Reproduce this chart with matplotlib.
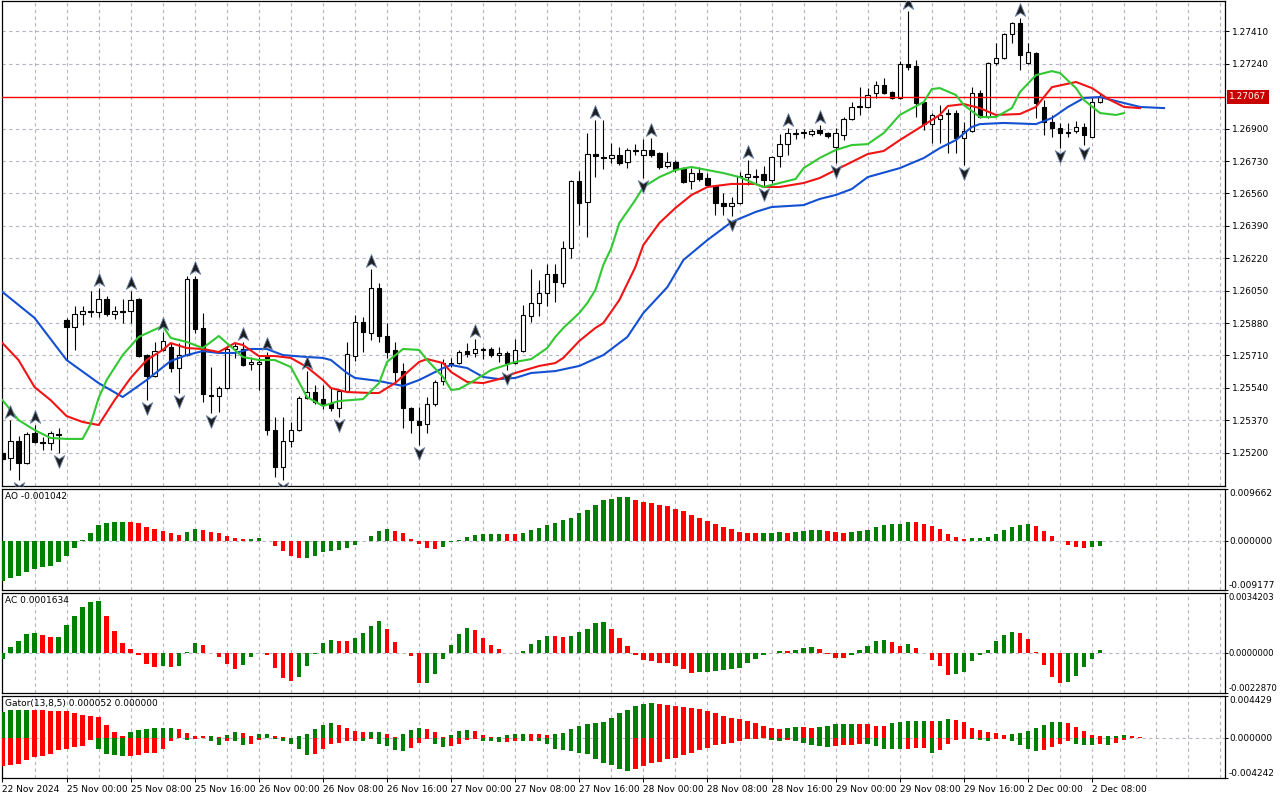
import numpy as np
import matplotlib
matplotlib.use('Agg')
import matplotlib.pyplot as plt
from matplotlib.path import Path
from matplotlib import transforms

plt.rcParams['font.family'] = ['DejaVu Sans']
FS = 6.5

# ---------------- data (H1 bars) ----------------
date_bars = [0, 8, 16, 24, 32, 40, 48, 56, 64, 72, 80, 88, 96, 104, 112, 120, 128, 136]
date_labels = ['22 Nov 2024', '25 Nov 00:00', '25 Nov 08:00', '25 Nov 16:00', '26 Nov 00:00',
               '26 Nov 08:00', '26 Nov 16:00', '27 Nov 00:00', '27 Nov 08:00', '27 Nov 16:00',
               '28 Nov 00:00', '28 Nov 08:00', '28 Nov 16:00', '29 Nov 00:00', '29 Nov 08:00',
               '29 Nov 16:00', '2 Dec 00:00', '2 Dec 08:00']

price_ticks = [1.25200, 1.25370, 1.25540, 1.25710, 1.25880, 1.26050, 1.26220,
               1.26390, 1.26560, 1.26730, 1.26900, 1.27070, 1.27240, 1.27410]
bid = 1.27067

open_ = [1.25198, 1.25172, 1.25261, 1.25146, 1.25303, 1.25256, 1.25251, 1.25298, 1.25896, 1.25859,
         1.25927, 1.25938, 1.25938, 1.26006, 1.25927, 1.25943, 1.25943, 1.26006, 1.25712, 1.25602,
         1.25739, 1.25754, 1.25644, 1.25712, 1.26111, 1.25854, 1.25502, 1.25497, 1.25539, 1.25744,
         1.25744, 1.25665, 1.25665, 1.25702, 1.25319, 1.25125, 1.25261, 1.25319, 1.25487, 1.25518,
         1.25481, 1.25460, 1.25434, 1.25523, 1.25707, 1.25886, 1.25828, 1.26064, 1.25812, 1.25739,
         1.25628, 1.25434, 1.25366, 1.25350, 1.25455, 1.25576, 1.25665, 1.25670, 1.25733, 1.25723,
         1.25744, 1.25744, 1.25712, 1.25723, 1.25670, 1.25733, 1.25917, 1.25985, 1.26038, 1.26137,
         1.26090, 1.26274, 1.26625, 1.26515, 1.26767, 1.26751, 1.26746, 1.26762, 1.26725, 1.26783,
         1.26762, 1.26788, 1.26772, 1.26704, 1.26725, 1.26693, 1.26625, 1.26667, 1.26641, 1.26599,
         1.26510, 1.26494, 1.26510, 1.26646, 1.26651, 1.26662, 1.26630, 1.26756, 1.26819, 1.26872,
         1.26877, 1.26872, 1.26893, 1.26877, 1.26804, 1.26867, 1.26951, 1.27019, 1.27014, 1.27087,
         1.27129, 1.27092, 1.27061, 1.27239, 1.27229, 1.27040, 1.26924, 1.26951, 1.26982, 1.26982,
         1.26851, 1.26888, 1.27087, 1.26961, 1.27244, 1.27271, 1.27397, 1.27454, 1.27244, 1.27297,
         1.27014, 1.26935, 1.26903, 1.26882, 1.26888, 1.26909, 1.26856, 1.27040]
high = [1.25214, 1.25371, 1.25287, 1.25308, 1.25345, 1.25282, 1.25313, 1.25329, 1.25907, 1.25969,
        1.25969, 1.26048, 1.26064, 1.26022, 1.25969, 1.26006, 1.26048, 1.26011, 1.25718, 1.25781,
        1.25833, 1.25775, 1.25775, 1.26127, 1.26127, 1.25933, 1.25649, 1.25550, 1.25760, 1.25775,
        1.25781, 1.25702, 1.25702, 1.25728, 1.25387, 1.25387, 1.25361, 1.25497, 1.25628, 1.25555,
        1.25555, 1.25539, 1.25534, 1.25781, 1.25922, 1.25912, 1.26164, 1.26090, 1.25880, 1.25781,
        1.25670, 1.25439, 1.25439, 1.25492, 1.25581, 1.25691, 1.25697, 1.25739, 1.25775, 1.25796,
        1.25754, 1.25754, 1.25754, 1.25733, 1.25796, 1.25975, 1.26164, 1.26106, 1.26190, 1.26190,
        1.26311, 1.26630, 1.26678, 1.26877, 1.26945, 1.26945, 1.26825, 1.26804, 1.26798, 1.26819,
        1.26846, 1.26851, 1.26777, 1.26777, 1.26735, 1.26699, 1.26693, 1.26699, 1.26667, 1.26604,
        1.26562, 1.26541, 1.26672, 1.26735, 1.26688, 1.26704, 1.26756, 1.26872, 1.26903, 1.26898,
        1.26898, 1.26898, 1.26919, 1.26882, 1.26903, 1.26961, 1.27040, 1.27118, 1.27113, 1.27150,
        1.27166, 1.27098, 1.27255, 1.27517, 1.27260, 1.27045, 1.26982, 1.27024, 1.27003, 1.26998,
        1.26935, 1.27118, 1.27103, 1.27250, 1.27349, 1.27402, 1.27460, 1.27481, 1.27349, 1.27302,
        1.27050, 1.26972, 1.26930, 1.26930, 1.26940, 1.26930, 1.27066, 1.27087]
low = [1.25151, 1.25109, 1.25056, 1.25140, 1.25251, 1.25214, 1.25214, 1.25198, 1.25686, 1.25739,
       1.25870, 1.25912, 1.25912, 1.25917, 1.25901, 1.25880, 1.25880, 1.25700, 1.25476, 1.25597,
       1.25733, 1.25623, 1.25513, 1.25707, 1.25828, 1.25466, 1.25408, 1.25413, 1.25534, 1.25697,
       1.25655, 1.25634, 1.25529, 1.25293, 1.25072, 1.25056, 1.25230, 1.25313, 1.25481, 1.25455,
       1.25429, 1.25418, 1.25387, 1.25518, 1.25681, 1.25728, 1.25791, 1.25781, 1.25697, 1.25565,
       1.25329, 1.25303, 1.25240, 1.25303, 1.25445, 1.25555, 1.25649, 1.25665, 1.25702, 1.25702,
       1.25691, 1.25702, 1.25676, 1.25634, 1.25665, 1.25728, 1.25886, 1.25917, 1.25969, 1.25990,
       1.26069, 1.26221, 1.26394, 1.26332, 1.26646, 1.26688, 1.26720, 1.26709, 1.26693, 1.26762,
       1.26641, 1.26751, 1.26688, 1.26693, 1.26672, 1.26615, 1.26583, 1.26625, 1.26594, 1.26447,
       1.26447, 1.26442, 1.26505, 1.26604, 1.26615, 1.26599, 1.26615, 1.26699, 1.26762, 1.26846,
       1.26851, 1.26861, 1.26867, 1.26851, 1.26720, 1.26840, 1.26945, 1.26972, 1.27008, 1.27061,
       1.27082, 1.27056, 1.27056, 1.27208, 1.26961, 1.26893, 1.26825, 1.26825, 1.26772, 1.26772,
       1.26709, 1.26882, 1.26956, 1.26956, 1.27234, 1.27265, 1.27349, 1.27208, 1.27239, 1.26956,
       1.26867, 1.26856, 1.26798, 1.26856, 1.26877, 1.26814, 1.26854, 1.27035]
close = [1.25167, 1.25261, 1.25146, 1.25298, 1.25256, 1.25251, 1.25303, 1.25293, 1.25859, 1.25927,
         1.25943, 1.25943, 1.26006, 1.25927, 1.25943, 1.25938, 1.26001, 1.25707, 1.25602, 1.25733,
         1.25786, 1.25644, 1.25712, 1.26111, 1.25849, 1.25508, 1.25497, 1.25539, 1.25744, 1.25760,
         1.25660, 1.25676, 1.25676, 1.25319, 1.25125, 1.25261, 1.25319, 1.25487, 1.25518, 1.25466,
         1.25450, 1.25434, 1.25523, 1.25718, 1.25886, 1.25833, 1.26064, 1.25812, 1.25728, 1.25623,
         1.25434, 1.25371, 1.25345, 1.25455, 1.25571, 1.25670, 1.25670, 1.25728, 1.25718, 1.25744,
         1.25739, 1.25712, 1.25723, 1.25670, 1.25739, 1.25922, 1.25985, 1.26038, 1.26137, 1.26095,
         1.26274, 1.26625, 1.26510, 1.26767, 1.26756, 1.26746, 1.26762, 1.26720, 1.26788, 1.26788,
         1.26788, 1.26762, 1.26699, 1.26725, 1.26688, 1.26620, 1.26667, 1.26636, 1.26604, 1.26510,
         1.26494, 1.26510, 1.26651, 1.26662, 1.26646, 1.26630, 1.26751, 1.26819, 1.26877, 1.26877,
         1.26882, 1.26888, 1.26877, 1.26861, 1.26877, 1.26951, 1.27014, 1.27014, 1.27077, 1.27129,
         1.27087, 1.27061, 1.27239, 1.27223, 1.27035, 1.26924, 1.26972, 1.26972, 1.26977, 1.26851,
         1.26888, 1.27087, 1.26961, 1.27244, 1.27271, 1.27397, 1.27454, 1.27286, 1.27302, 1.27035,
         1.26935, 1.26903, 1.26877, 1.26877, 1.26909, 1.26867, 1.27040, 1.27067]

# Alligator lines (already shifted forward: jaw 8, teeth 5, lips 3 bars)
jaw_bar = [0, 4, 8, 12, 15, 18, 21, 23, 25, 27, 29, 31, 33, 35, 38, 40, 41, 43, 44, 47,
           50, 52, 55, 56, 58, 60, 62, 64, 66, 69, 72, 75, 78, 80, 83, 85, 88, 91, 94, 96,
           100, 102, 104, 106, 108, 112, 115, 117, 119, 121, 122, 125, 129, 131, 133, 135, 137, 139, 142, 145]
jaw = [1.26043, 1.25907, 1.25686, 1.25565, 1.25492, 1.25581, 1.25681, 1.25712, 1.25733, 1.25723,
       1.25723, 1.25744, 1.25744, 1.25712, 1.25702, 1.25697, 1.25686, 1.25618, 1.25592, 1.25576,
       1.25550, 1.25581, 1.25644, 1.25660, 1.25644, 1.25597, 1.25586, 1.25592, 1.25618, 1.25628,
       1.25655, 1.25712, 1.25807, 1.25933, 1.26069, 1.26211, 1.26316, 1.26410, 1.26463, 1.26489,
       1.26499, 1.26531, 1.26552, 1.26583, 1.26646, 1.26693, 1.26746, 1.26798, 1.26840, 1.26909,
       1.26924, 1.26930, 1.26924, 1.26956, 1.27014, 1.27061, 1.27066, 1.27045, 1.27014, 1.27008]
teeth_bar = [0, 2, 4, 6, 8, 10, 12, 14, 16, 18, 20, 21, 23, 25, 27, 29, 30, 32, 34, 36,
             38, 40, 41, 43, 46, 47, 48, 49, 50, 52, 53, 55, 56, 58, 60, 62, 64, 67, 69, 70,
             72, 74, 75, 77, 79, 80, 82, 84, 86, 88, 91, 94, 95, 97, 100, 102, 104, 106, 108, 110,
             112, 115, 117, 118, 120, 122, 124, 127, 129, 131, 134, 136, 138, 140, 142]
teeth = [1.25775, 1.25686, 1.25544, 1.25476, 1.25392, 1.25361, 1.25345, 1.25476, 1.25592, 1.25686,
         1.25739, 1.25775, 1.25749, 1.25744, 1.25728, 1.25775, 1.25765, 1.25707, 1.25707, 1.25697,
         1.25649, 1.25581, 1.25539, 1.25518, 1.25513, 1.25513, 1.25539, 1.25565, 1.25602, 1.25676,
         1.25691, 1.25670, 1.25623, 1.25571, 1.25565, 1.25586, 1.25618, 1.25655, 1.25670, 1.25697,
         1.25786, 1.25854, 1.25880, 1.26001, 1.26174, 1.26290, 1.26405, 1.26484, 1.26552, 1.26594,
         1.26610, 1.26610, 1.26594, 1.26594, 1.26615, 1.26641, 1.26683, 1.26725, 1.26767, 1.26783,
         1.26840, 1.26919, 1.26972, 1.27019, 1.27029, 1.27008, 1.26972, 1.26977, 1.27014, 1.27118,
         1.27145, 1.27113, 1.27056, 1.27014, 1.27008]
lips_bar = [0, 2, 4, 6, 8, 10, 11, 12, 13, 15, 17, 20, 21, 23, 25, 27, 28, 30, 32, 34,
            36, 37, 38, 40, 42, 45, 47, 48, 50, 52, 53, 55, 56, 57, 59, 61, 64, 66, 68, 69,
            70, 72, 73, 74, 75, 76, 77, 79, 80, 82, 84, 86, 88, 90, 92, 94, 95, 97, 99, 100,
            102, 104, 106, 108, 110, 112, 115, 116, 117, 119, 120, 122, 124, 126, 127, 129, 131, 132, 134, 135,
            137, 139, 140]
lips = [1.25476, 1.25371, 1.25319, 1.25277, 1.25272, 1.25272, 1.25350, 1.25487, 1.25581, 1.25712,
        1.25807, 1.25865, 1.25802, 1.25781, 1.25749, 1.25812, 1.25775, 1.25702, 1.25686, 1.25686,
        1.25649, 1.25571, 1.25492, 1.25445, 1.25471, 1.25481, 1.25565, 1.25676, 1.25744, 1.25739,
        1.25686, 1.25597, 1.25529, 1.25534, 1.25581, 1.25634, 1.25676, 1.25691, 1.25749, 1.25807,
        1.25854, 1.25933, 1.25985, 1.26053, 1.26185, 1.26274, 1.26405, 1.26526, 1.26594, 1.26646,
        1.26683, 1.26699, 1.26683, 1.26667, 1.26646, 1.26610, 1.26594, 1.26615, 1.26636, 1.26693,
        1.26746, 1.26788, 1.26814, 1.26819, 1.26877, 1.26972, 1.27040, 1.27108, 1.27113, 1.27077,
        1.27024, 1.26961, 1.26961, 1.27008, 1.27092, 1.27181, 1.27202, 1.27192, 1.27113, 1.27050,
        1.26982, 1.26972, 1.26982]

fractal_up = [1, 4, 12, 16, 20, 24, 30, 33, 38, 46, 59, 74, 81, 93, 98, 102, 113, 127]
fractal_dn = [2, 7, 18, 22, 26, 35, 42, 52, 63, 80, 91, 95, 104, 120, 132, 135]

ao = [-0.007508, -0.006954, -0.006646, -0.005846, -0.005231, -0.004923, -0.004616, -0.004000, -0.002769, -0.001415,
      0.000123, 0.001539, 0.002954, 0.003385, 0.003508, 0.003569, 0.003508, 0.003385, 0.002585, 0.002154,
      0.001846, 0.001477, 0.001108, 0.001662, 0.002277, 0.002031, 0.001723, 0.001477, 0.000923, 0.000431,
      0.000308, 0.000369, 0.000431, -0.000062, -0.000923, -0.001969, -0.002769, -0.003262, -0.003200, -0.002769,
      -0.002154, -0.001908, -0.001662, -0.001415, -0.000738, -0.000123, 0.000923, 0.001846, 0.002154, 0.001846,
      0.001539, 0.000308, -0.000615, -0.001415, -0.001539, -0.001231, -0.000185, 0.000062, 0.000738, 0.001046,
      0.001231, 0.001292, 0.001354, 0.001292, 0.001231, 0.001539, 0.001969, 0.002462, 0.002954, 0.003385,
      0.003815, 0.004185, 0.005108, 0.005662, 0.006769, 0.007693, 0.007877, 0.008123, 0.008185, 0.007693,
      0.007262, 0.007077, 0.006769, 0.006462, 0.005846, 0.005539, 0.004739, 0.004185, 0.003692, 0.003077,
      0.002523, 0.002154, 0.001723, 0.001508, 0.001446, 0.001477, 0.001539, 0.001569, 0.001477, 0.001662,
      0.001846, 0.002031, 0.002062, 0.001846, 0.001723, 0.001539, 0.001662, 0.001846, 0.002092, 0.002585,
      0.002892, 0.003077, 0.003108, 0.003569, 0.003508, 0.003077, 0.002708, 0.002277, 0.001354, 0.000738,
      0.000369, 0.000431, 0.000615, 0.000738, 0.001354, 0.002031, 0.002585, 0.002954, 0.003138, 0.002769,
      0.001846, 0.000923, -0.000030, -0.000738, -0.001231, -0.001415, -0.001231, -0.001042]
ac = [-0.000318, 0.000336, 0.000692, 0.001084, 0.001159, 0.001028, 0.000897, 0.000916, 0.001589, 0.002093,
      0.002598, 0.002897, 0.002953, 0.002093, 0.001271, 0.000579, 0.000206, -0.000093, -0.000617, -0.000804,
      -0.000748, -0.000804, -0.000748, 0.000056, 0.000579, 0.000430, -0.000019, -0.000243, -0.000654, -0.000935,
      -0.000692, -0.000243, -0.000019, -0.000131, -0.000878, -0.001439, -0.001626, -0.001383, -0.000766, -0.000037,
      0.000579, 0.000748, 0.000692, 0.000654, 0.000841, 0.001159, 0.001533, 0.001813, 0.001364, 0.000635,
      -0.000019, -0.000187, -0.001738, -0.001719, -0.001215, -0.000374, 0.000467, 0.001084, 0.001402, 0.001308,
      0.000841, 0.000449, 0.000243, 0.000019, 0.000000, 0.000131, 0.000505, 0.000748, 0.000972, 0.000953,
      0.000935, 0.000972, 0.001215, 0.001364, 0.001701, 0.001776, 0.001364, 0.000841, 0.000411, -0.000093,
      -0.000430, -0.000467, -0.000561, -0.000598, -0.000748, -0.000935, -0.001159, -0.001084, -0.001065, -0.001028,
      -0.000972, -0.000935, -0.000878, -0.000561, -0.000336, -0.000131, -0.000019, 0.000131, 0.000093, 0.000187,
      0.000280, 0.000318, 0.000243, -0.000037, -0.000262, -0.000280, -0.000093, 0.000187, 0.000411, 0.000692,
      0.000748, 0.000598, 0.000411, 0.000523, 0.000280, -0.000019, -0.000430, -0.000748, -0.001271, -0.001177,
      -0.001084, -0.000467, -0.000131, 0.000187, 0.000654, 0.001028, 0.001215, 0.001159, 0.000804, 0.000056,
      -0.000692, -0.001402, -0.001719, -0.001645, -0.001308, -0.000804, -0.000318, 0.000163]
gator_up = [0.002768, 0.002941, 0.002958, 0.002976, 0.002941, 0.002906, 0.002889, 0.002872, 0.002837, 0.002595,
            0.002387, 0.002284, 0.002180, 0.001349, 0.000623, 0.000208, 0.000623, 0.000830, 0.000969, 0.001038,
            0.001055, 0.001073, 0.000969, 0.000519, 0.000208, 0.000173, 0.000190, 0.000104, 0.000346, 0.000623,
            0.000519, 0.000173, 0.000415, 0.000433, 0.000208, 0.000104, 0.000035, 0.000173, 0.000415, 0.000969,
            0.001349, 0.001557, 0.001349, 0.001073, 0.000727, 0.000623, 0.000640, 0.000657, 0.000415, 0.000069,
            0.000415, 0.000865, 0.001073, 0.000969, 0.000623, 0.000104, 0.000311, 0.000727, 0.000830, 0.000727,
            0.000311, 0.000104, 0.000121, 0.000311, 0.000415, 0.000433, 0.000415, 0.000398, 0.000311, 0.000415,
            0.000519, 0.000969, 0.001246, 0.001453, 0.001557, 0.001661, 0.002076, 0.002595, 0.002906, 0.003322,
            0.003633, 0.003737, 0.003633, 0.003425, 0.003391, 0.003218, 0.003114, 0.003010, 0.002803, 0.002595,
            0.002284, 0.002076, 0.001972, 0.001765, 0.001557, 0.001246, 0.001038, 0.000934, 0.001038, 0.001142,
            0.001107, 0.001038, 0.001142, 0.001246, 0.001453, 0.001471, 0.001488, 0.001453, 0.001419, 0.001246,
            0.001211, 0.001557, 0.001661, 0.001765, 0.001782, 0.001799, 0.001765, 0.001834, 0.001972, 0.001868,
            0.001661, 0.001038, 0.000830, 0.000623, 0.000519, 0.000311, 0.000415, 0.000519, 0.000727, 0.001038,
            0.001349, 0.001661, 0.001678, 0.001557, 0.001142, 0.000727, 0.000311, 0.000173, 0.000208, 0.000225,
            0.000311, 0.000173, 0.000052]
gator_dn = [-0.002941, -0.002872, -0.002768, -0.002353, -0.002041, -0.001938, -0.001730, -0.001315, -0.001142, -0.000969,
            -0.000900, -0.000173, -0.001211, -0.001661, -0.001834, -0.001938, -0.001920, -0.001834, -0.001592, -0.001574,
            -0.001211, -0.000381, -0.000035, -0.000173, -0.000156, -0.000035, -0.000277, -0.000796, -0.000346, -0.000381,
            -0.000796, -0.000623, -0.000173, -0.000035, -0.000104, -0.000277, -0.000623, -0.001211, -0.001765, -0.001661,
            -0.001211, -0.000623, -0.000554, -0.000381, -0.000363, -0.000381, -0.000104, -0.000623, -0.000900, -0.001315,
            -0.001384, -0.001073, -0.000519, -0.000104, -0.000623, -0.000969, -0.000865, -0.000623, -0.000173, -0.000104,
            -0.000277, -0.000381, -0.000484, -0.000450, -0.000277, -0.000311, -0.000277, -0.000311, -0.000623, -0.001142,
            -0.001315, -0.001419, -0.001557, -0.001661, -0.002180, -0.002699, -0.002906, -0.003322, -0.003495, -0.003322,
            -0.002976, -0.002699, -0.002595, -0.002249, -0.002076, -0.001834, -0.001557, -0.001315, -0.001038, -0.000727,
            -0.000692, -0.000519, -0.000277, -0.000104, -0.000069, -0.000035, -0.000173, -0.000277, -0.000173, -0.000277,
            -0.000519, -0.000727, -0.000900, -0.000917, -0.000865, -0.000796, -0.000761, -0.000623, -0.000640, -0.000900,
            -0.001142, -0.001211, -0.001228, -0.001142, -0.001107, -0.001073, -0.001557, -0.001315, -0.000692, -0.000173,
            -0.000104, -0.000121, -0.000173, -0.000346, -0.000138, -0.000069, -0.000277, -0.000796, -0.001211, -0.001419,
            -0.001315, -0.000969, -0.000623, -0.000381, -0.000692, -0.000709, -0.000727, -0.000692, -0.000727, -0.000519,
            -0.000173]

ao_range = (-0.009177, 0.009662)
ac_range = (-0.0022870, 0.0034203)
gator_range = (-0.004242, 0.004429)
ao_title = 'AO -0.001042'
ac_title = 'AC 0.0001634'
gator_title = 'Gator(13,8,5) 0.000052 0.000000'

# ---------------- layout ----------------
W, H = 1280, 800
fig = plt.figure(figsize=(W / 100, H / 100), dpi=100)
fig.patch.set_facecolor('white')


def panel(top, bottom):
    return fig.add_axes([2 / W, 1 - bottom / H, 1223 / W, (bottom - top) / H])


ax = panel(1, 486)
ax_ao = panel(489, 590)
ax_ac = panel(593, 693)
ax_g = panel(696, 778)
axes = [ax, ax_ao, ax_ac, ax_g]

GRID = '#b8b2c4'
DASH = (0, (3, 3))
GREEN = '#008000'
RED = '#ff0000'

for a in axes:
    a.set_xlim(-0.06, 152.6)
    for xv in range(4, 153, 4):
        a.axvline(xv, color=GRID, lw=0.8, ls=DASH, zorder=0)
    for s in a.spines.values():
        s.set_color('black')
        s.set_linewidth(0.9)
    a.yaxis.tick_right()
    a.tick_params(axis='y', direction='out', length=3, pad=2, labelsize=FS, width=0.7)
    a.tick_params(axis='x', bottom=False, labelbottom=False)

# ---------------- main chart ----------------
ax.set_ylim(1.25025, 1.27570)
# the 1.27070 level sits under the bid line and its label, so it is not drawn
shown = [p for p in price_ticks if abs(p - 1.27070) > 1e-6]
for p in shown:
    ax.axhline(p, color=GRID, lw=0.8, ls=DASH, zorder=0)
ax.set_yticks(shown)
ax.set_yticklabels(['%.5f' % p for p in shown])

x = np.arange(len(close))
o = np.array(open_)
c = np.array(close)
hi = np.array(high)
lo = np.array(low)
ax.vlines(x, lo, hi, color='black', lw=0.8, zorder=3)
ax.bar(x, np.abs(c - o), bottom=np.minimum(o, c), width=0.55,
       color=np.where(c >= o, 'white', 'black'), edgecolor='black', linewidth=0.8, zorder=4)

ax.plot(jaw_bar, jaw, color='#1450d2', lw=1.5, zorder=5)
ax.plot(teeth_bar, teeth, color='#f01414', lw=1.5, zorder=5)
ax.plot(lips_bar, lips, color='#32c832', lw=1.5, zorder=5)

ax.axhline(bid, color='#ff0000', lw=1.0, zorder=4)
btr = transforms.blended_transform_factory(ax.transAxes, ax.transData)
ax.text(1.0035, bid, '%.5f' % bid, transform=btr, ha='left', va='center', color='white',
        fontsize=FS, clip_on=False, zorder=10,
        bbox=dict(boxstyle='square,pad=0.25', fc='#c80000', ec='none'))

codes = [Path.MOVETO, Path.LINETO, Path.LINETO, Path.LINETO, Path.CLOSEPOLY]
arrow_up = Path([(0, 1), (0.75, -0.85), (0, -0.35), (-0.75, -0.85), (0, 1)], codes)
arrow_dn = Path([(0, -1), (0.75, 0.85), (0, 0.35), (-0.75, 0.85), (0, -1)], codes)
tr_up = transforms.offset_copy(ax.transData, fig=fig, y=8, units='dots')
tr_dn = transforms.offset_copy(ax.transData, fig=fig, y=-8, units='dots')
fu = np.array(fractal_up)
fd = np.array(fractal_dn)
ax.plot(fu, hi[fu], ls='none', marker=arrow_up, ms=10, mfc='#1e1e1e', mec='#6f86ad',
        mew=0.6, transform=tr_up, zorder=6)
ax.plot(fd, lo[fd], ls='none', marker=arrow_dn, ms=10, mfc='#1e1e1e', mec='#6f86ad',
        mew=0.6, transform=tr_dn, zorder=6)


# ---------------- indicator windows ----------------
def histogram(a, vals, first_green, absolute=False):
    v = np.asarray(vals)
    ref = np.abs(v) if absolute else v
    rising = np.r_[first_green, ref[1:] > ref[:-1]]
    a.bar(np.arange(len(v)), v, width=0.55, color=np.where(rising, GREEN, RED), zorder=3)


def scale(a, rng, fmt, title, size=FS):
    lo_, hi_ = rng
    a.set_ylim(lo_, hi_)
    a.axhline(0, color=GRID, lw=0.8, ls=DASH, zorder=1)
    a.set_yticks([lo_, 0, hi_])
    a.set_yticklabels([fmt % lo_, fmt % 0, fmt % hi_])
    a.tick_params(axis='y', length=2, pad=0.8, labelsize=size)
    labs = a.get_yticklabels()
    labs[0].set_va('bottom')
    labs[2].set_va('top')
    a.annotate(title, xy=(0, 1), xycoords='axes fraction', xytext=(3, -3),
               textcoords='offset pixels', ha='left', va='top', fontsize=FS, zorder=10)


histogram(ax_ao, ao, True)
scale(ax_ao, ao_range, '%.6f', ao_title)

histogram(ax_ac, ac, True)
scale(ax_ac, ac_range, '%.7f', ac_title, size=6.1)

histogram(ax_g, gator_up, True)
histogram(ax_g, gator_dn, False, absolute=True)
scale(ax_g, gator_range, '%.6f', gator_title)

ax_g.tick_params(axis='x', bottom=True, labelbottom=True, direction='out', length=3,
                 pad=2, labelsize=FS, width=0.7)
ax_g.set_xticks(date_bars)
ax_g.set_xticklabels(date_labels)
for lab in ax_g.get_xticklabels():
    lab.set_ha('left')

fig.savefig('out.png', dpi=100)
